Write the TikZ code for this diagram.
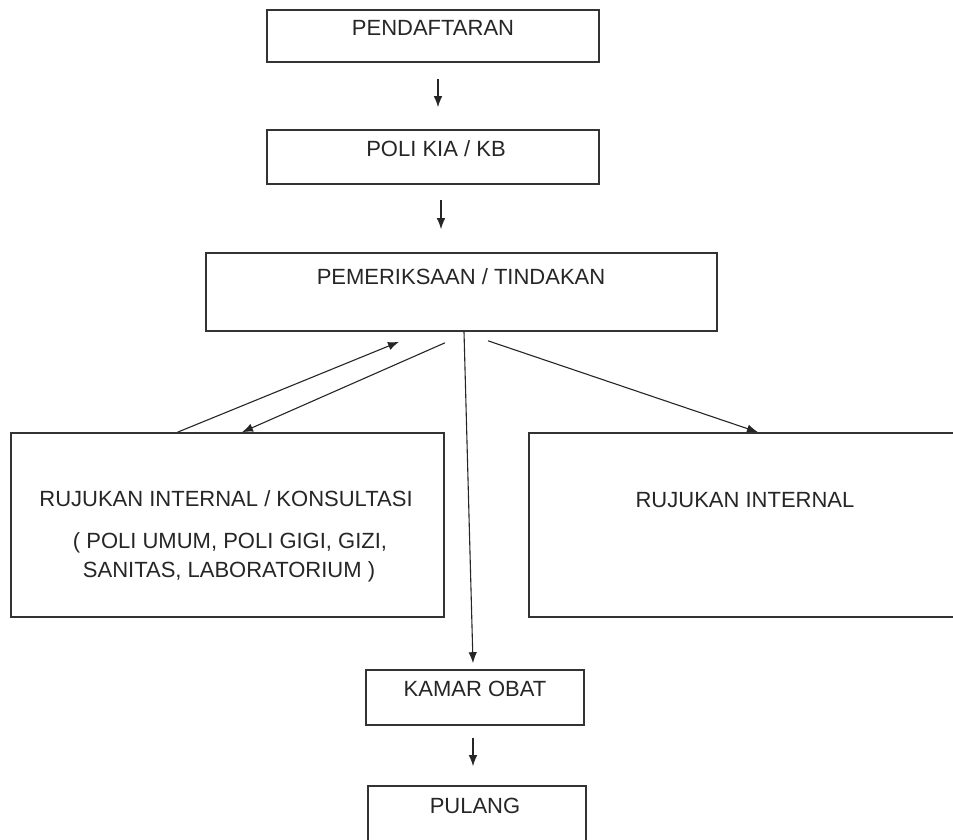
\documentclass[tikz,border=0pt]{standalone}
\usepackage{fontspec}
\setmainfont{Liberation Sans}
\usetikzlibrary{arrows.meta}
\tikzset{
  kotak/.style={draw=black!80, line width=1.6pt, inner sep=0pt},
  tulis/.style={inner sep=0pt, anchor=base, text=black!85, font=\fontsize{22}{26}\selectfont},
  panah/.style={-{Latex[length=11pt,width=8.5pt]}, line width=1.1pt, draw=black!85},
}
\begin{document}
\begin{tikzpicture}[x=1pt,y=-1pt]
\useasboundingbox (0,0) rectangle (953,839);
\fill[white] (0,0) rectangle (953,839);

% kotak
\node[kotak, minimum width=332pt, minimum height=52pt] (daftar) at (433,36) {};
\node[kotak, minimum width=332pt, minimum height=54pt] (kia) at (433,157) {};
\node[kotak, minimum width=511pt, minimum height=78pt] (periksa) at (461.5,292) {};
\node[kotak, minimum width=433pt, minimum height=184pt] (konsul) at (227.5,525) {};
\node[kotak, minimum width=440pt, minimum height=184pt] (rujuk) at (749,525) {};
\node[kotak, minimum width=218pt, minimum height=55pt] (obat) at (475,697.5) {};
\node[kotak, minimum width=218pt, minimum height=60pt] (pulang) at (477,816) {};

% tulisan
\node[tulis] (daftarT) at (433,35) {PENDAFTARAN};
\node[tulis] (kiaT) at (436,156) {POLI KIA / KB};
\node[tulis] (periksaT) at (461,284) {PEMERIKSAAN / TINDAKAN};
\foreach \n/\x/\y/\t in {1/226/506/{RUJUKAN INTERNAL / KONSULTASI},2/230/548/{( POLI UMUM, POLI GIGI, GIZI,},3/229/577/{SANITAS, LABORATORIUM )}}{
\node[tulis] (konsulT\n) at (\x,\y) {\t};}
\node[tulis] (rujukT) at (745,507) {RUJUKAN INTERNAL};
\node[tulis] (obatT) at (475,696) {KAMAR OBAT};
\node[tulis] (pulangT) at (475,813) {PULANG};

% panah
\draw[panah] ([xshift=5pt,yshift=-16pt]daftar.south) -- ([xshift=5pt,yshift=22pt]kia.north);
\draw[panah] ([xshift=8pt,yshift=-15pt]kia.south) -- ([xshift=-20.5pt,yshift=23pt]periksa.north);
\draw[panah] ([xshift=-50pt]konsul.north) -- ([xshift=-62.5pt,yshift=-10pt]periksa.south);
\draw[panah] ([xshift=-16.5pt,yshift=-11pt]periksa.south) -- ([xshift=14.5pt]konsul.north);
\draw[panah] ([xshift=26.5pt,yshift=-9pt]periksa.south) -- ([xshift=9pt]rujuk.north);
\draw[panah] ([xshift=2.5pt]periksa.south) -- ([xshift=-2pt,yshift=6pt]obat.north);
\draw[panah] ([xshift=-2pt,yshift=-12pt]obat.south) -- ([xshift=-4pt,yshift=19pt]pulang.north);

\end{tikzpicture}
\end{document}
